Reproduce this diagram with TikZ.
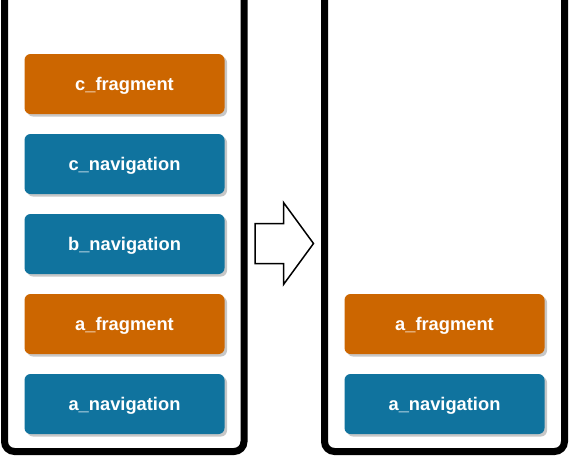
\documentclass[tikz,border=0pt]{standalone}
\usepackage{fontspec}
\setmainfont{Liberation Sans}
\usetikzlibrary{shadows}
\definecolor{fragorange}{HTML}{CC6600}
\definecolor{navblue}{HTML}{10739E}
\tikzset{
  stackbox/.style={rounded corners=6pt, minimum width=200pt, minimum height=60pt,
    inner sep=0pt, text=white, font=\fontsize{18.3}{20}\selectfont\bfseries,
    text height=13.4pt, text depth=0pt,
    drop shadow={shadow xshift=2.5pt, shadow yshift=-2.5pt, fill=black, opacity=0.22}},
  fragbox/.style={stackbox, fill=fragorange},
  navbox/.style={stackbox, fill=navblue},
  container/.style={line width=7pt, rounded corners=10pt, draw=black},
}
\begin{document}
\begin{tikzpicture}[x=1pt, y=-1pt]
\useasboundingbox[fill=white] (0,0) rectangle (569,459);
% containers
\draw[container] (4.5,-5) -- (4.5,451.5) -- (244,451.5) -- (244,-5);
\draw[container] (324.5,-5) -- (324.5,451.5) -- (564.5,451.5) -- (564.5,-5);
% left stack
\node[fragbox] (cfrag) at (124.5,84) {c\_fragment};
\node[navbox]  (cnav)  at (124.5,164) {c\_navigation};
\node[navbox]  (bnav)  at (124.5,244) {b\_navigation};
\node[fragbox] (afragL) at (124.5,324) {a\_fragment};
\node[navbox]  (anavL) at (124.5,404) {a\_navigation};
% right stack
\node[fragbox] (afragR) at (444.5,324) {a\_fragment};
\node[navbox]  (anavR) at (444.5,404) {a\_navigation};
% arrow
\draw[line width=1.5pt, fill=white, line join=miter]
  (255,223.5) -- (283.5,223.5) -- (283.5,202.5) -- (313.5,243.5) -- (283.5,284.5) -- (283.5,263.5) -- (255,263.5) -- cycle;
\end{tikzpicture}
\end{document}
